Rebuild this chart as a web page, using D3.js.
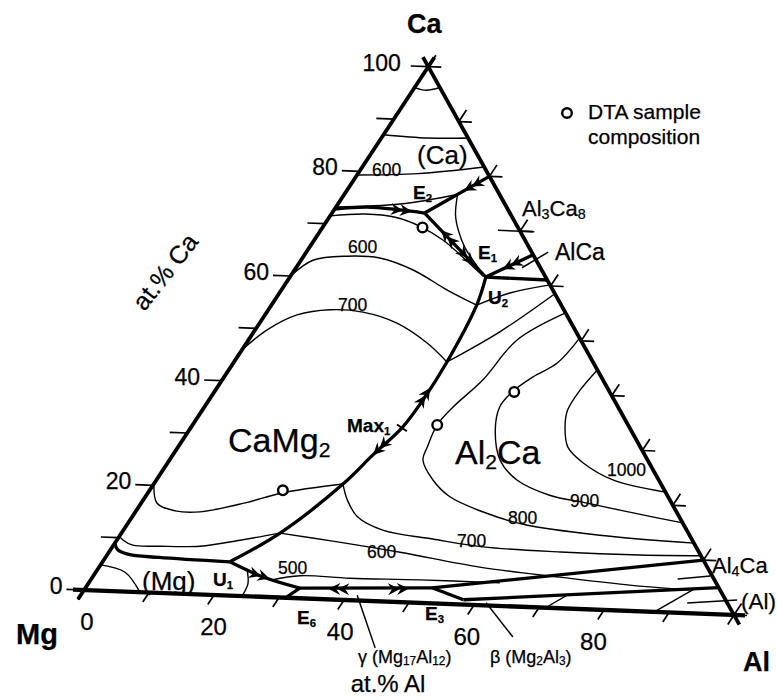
<!DOCTYPE html>
<html>
<head>
<meta charset="utf-8">
<script src="https://cdn.jsdelivr.net/npm/d3@7"></script>
<style>
  body { margin: 0; background: #fff; }
  svg { display: block; }
  text { font-family: "Liberation Sans", Arial, sans-serif; fill: #000; stroke: #000; stroke-width: 0.25px; }
</style>
</head>
<body>
<svg id="chart" width="777" height="700"></svg>
<script>
// compositions are [at.% Al, at.% Ca], Mg is the rest

const tickSteps = d3.range(0, 101, 10);
const caTickLabels = [0, 20, 40, 60, 80, 100];
const alTickLabels = [0, 20, 40, 60, 80];

// thick univariant lines
const valleyLines = [
  [[0, 72.8], [4.6, 73.4], [9.9, 73.1], [13.9, 72.7]],
  [[13.9, 72.7], [20, 80]],
  [[13.9, 72.7], [29.4, 61.2]],
  [[29.4, 61.2], [34.3, 65.7]],
  [[29.4, 61.2], [38.9, 61.1]],
  [[29.4, 61.2], [30.8, 55.9], [31.95, 45.1], [32.1, 37.8], [31.7, 32.5], [30.0, 27.2], [28.4, 21.6], [23.8, 12.0], [19.1, 6.3]],
  [[19.1, 6.3], [8, 6.6], [3, 7.0], [1, 7.8], [0, 9]],
  [[19.1, 6.3], [25.6, 3.7], [32.2, 1.9]],
  [[32.2, 1.9], [31, 0]],
  [[32.2, 1.9], [52, 2.9]],
  [[52, 2.9], [90, 10]],
  [[52, 2.9], [57.9, 0.9]],
  [[57.9, 0.9], [95, 5]]
];

// thin liquidus isotherms and other thin lines
const isoLines = [
  [[0, 96], [2, 95.6], [3.8, 96.2]],
  [[0, 87], [7, 86.7], [13, 87]],
  [[0, 79.3], [9, 80], [18.3, 81.7]],
  [[0, 73.2], [9.3, 74.2], [17, 76.4]],
  [[17, 76.4], [18.7, 72.6], [20.6, 69.8], [23.4, 66.5], [27.0, 63.2], [28.2, 62.1]],
  [[0, 71.5], [5.1, 72.1], [9.9, 71.7], [14.5, 70.2], [19.3, 67.8], [24.5, 64.4], [29, 61.3]],
  [[0, 60], [1.8, 63.1], [6.5, 64.1], [11.6, 64.0], [17.8, 62.0], [24.9, 58.5], [30.8, 55.9]],
  [[30.8, 55.9], [34.6, 58.4], [39.8, 60.2]],
  [[0, 45.9], [1.8, 49.8], [4.8, 52.8], [9.3, 54.0], [14.4, 53.8], [20.6, 52.0], [27.1, 48.5], [31.95, 45.1]],
  [[31.95, 45.1], [36.9, 51.1], [41.4, 58.6]],
  [[44.9, 55.1], [40.3, 49.7], [39.1, 42.0], [37.3, 36.7], [36.7, 33.3], [37.4, 29.1], [38.0, 26.7], [41.5, 23.0], [45.7, 20.0], [52.2, 17.4], [59.4, 15.4], [72.0, 13.9], [86.9, 13.1]],
  [[49.5, 50.5], [48.6, 45.7], [46.3, 42.9], [44.7, 40.0], [44.3, 37.1], [45.9, 32.8], [49.6, 27.2], [54.1, 23.6], [60.5, 21.0], [66.9, 19.8], [74.8, 18.3], [83.2, 16.8]],
  [[55.3, 44.7], [54.7, 40.8], [54.8, 37.0], [56.1, 33.8], [58.5, 30.1], [62.3, 27.3], [68.5, 24.3], [77.6, 22.4]],
  [[0, 20.3], [2.4, 16.7], [5.9, 15.4], [9.7, 15.4], [15.6, 17.4], [20.1, 19.5], [28.4, 21.6]],
  [[28.4, 21.6], [30.6, 18.7], [33.8, 15.6], [38.9, 13.3], [47.3, 12.0], [55.6, 10.9], [67.7, 10.5], [80.0, 10.5], [89.2, 10.8]],
  [[0, 10.3], [0.9, 9.6], [2.9, 8.7], [7.1, 8.7], [13.1, 9.0], [18.5, 10.4], [23.8, 12.0]],
  [[23.8, 12.0], [32.5, 10.9], [43.7, 9.3], [57.1, 7.1], [70.1, 5.8], [83.0, 4.7], [90.9, 4.4]],
  [[27.2, 3.2], [31.0, 4.2], [38.7, 4.1], [49.4, 4.3], [61.7, 4.3]],
  [[0, 4.8], [4.4, 3.6], [8.6, 0]],
  [[22.5, 4.9], [24.0, 2.3], [24.3, 0]],
  [[71.1, 0.1], [73.0, 2.5]],
  [[87.9, 0.2], [91.4, 4.5]]
];

// leader lines for phase labels and compound marks
const leaderLines = [
  [[41.5, 1.0], [49.4, -8.7]],
  [[61.6, 0.5], [69.0, -5.7]],
  [[26.6, 70], [32.2, 70]],
  [[33.9, 63.2], [36.3, 66.3]],
  [[88.0, 6.3], [92.6, 7.1]],
  [[91.8, 1.9], [99.0, 2.8]]
];

// crystallisation direction arrows: [position, towards]
const arrows = [
  [[10.7, 73.0], [13.9, 72.7]],
  [[18.2, 77.8], [13.9, 72.7]],
  [[19.3, 68.7], [13.9, 72.7]],
  [[25.1, 64.4], [29.4, 61.2]],
  [[31.8, 63.4], [29.4, 61.2]],
  [[32.0, 39.0], [31.95, 45.1]],
  [[30.3, 28.2], [28.4, 21.6]],
  [[25.5, 3.8], [32.2, 1.9]],
  [[37.6, 2.0], [32.2, 1.9]],
  [[47.6, 2.5], [52, 2.9]]
];

const maxPoint = [[31.7, 32.5], [31.95, 45.1]];

// DTA sample compositions
const dtaSamples = [[15, 70], [45, 40], [36.7, 33.3], [20, 20]];

// --- projection of the (slightly tilted) triangle -------------------------
const vMg = [84, 590], vAl = [734, 615], vCa = [428.3, 66.7];
const xFromAl = d3.scaleLinear().domain([0, 100]).range([0, vAl[0] - vMg[0]]);
const yFromAl = d3.scaleLinear().domain([0, 100]).range([0, vAl[1] - vMg[1]]);
const xFromCa = d3.scaleLinear().domain([0, 100]).range([0, vCa[0] - vMg[0]]);
const yFromCa = d3.scaleLinear().domain([0, 100]).range([0, vCa[1] - vMg[1]]);
const proj = d => [vMg[0] + xFromAl(d[0]) + xFromCa(d[1]), vMg[1] + yFromAl(d[0]) + yFromCa(d[1])];

const svg = d3.select('#chart');
const curved = d3.line().x(d => proj(d)[0]).y(d => proj(d)[1]).curve(d3.curveCatmullRom.alpha(0.5));
const straight = d3.line().x(d => proj(d)[0]).y(d => proj(d)[1]);

// isotherms
svg.append('g').selectAll('path').data(isoLines).enter().append('path')
  .attr('d', curved).attr('fill', 'none').attr('stroke', '#000').attr('stroke-width', 1.4);

svg.append('g').selectAll('path').data(leaderLines).enter().append('path')
  .attr('d', straight).attr('fill', 'none').attr('stroke', '#000').attr('stroke-width', 1.5);

// triangle with edges running a bit past the corners
const edges = [[[0, 0], [100, 0]], [[100, 0], [0, 100]], [[0, 100], [0, 0]]];
svg.append('g').selectAll('path').data(edges).enter().append('path')
  .attr('d', e => {
    const a = proj(e[0]), b = proj(e[1]);
    const L = Math.hypot(b[0] - a[0], b[1] - a[1]), ux = (b[0] - a[0]) / L, uy = (b[1] - a[1]) / L;
    return `M${a[0] - ux * 11},${a[1] - uy * 11}L${b[0] + ux * 11},${b[1] + uy * 11}`;
  })
  .attr('stroke', '#000').attr('stroke-width', (e, i) => i === 0 ? 4.4 : 3.8).attr('fill', 'none');

// ticks
const tickG = svg.append('g').attr('stroke', '#000').attr('stroke-width', 1.7);
tickSteps.forEach(t => {
  tickG.append('path').attr('d', straight([[0, t], [-2.7, t]]));           // Ca axis (left)
  tickG.append('path').attr('d', straight([[100 - t, t], [102 - t, t]]));  // right edge, flat stub
  tickG.append('path').attr('d', straight([[100 - t, t], [100 - t, t + 2.2]])); // right edge, slanted stub
  tickG.append('path').attr('d', straight([[t, 0], [t, -1.8]]));           // Al axis (bottom)
});

// univariant lines
svg.append('g').selectAll('path').data(valleyLines).enter().append('path')
  .attr('d', curved).attr('fill', 'none').attr('stroke', '#000').attr('stroke-width', 3.3)
  .attr('stroke-linejoin', 'round');

// double arrow heads
const arrowG = svg.append('g');
arrows.forEach(([p, q]) => {
  const a = proj(p), b = proj(q);
  const L = Math.hypot(b[0] - a[0], b[1] - a[1]), ux = (b[0] - a[0]) / L, uy = (b[1] - a[1]) / L;
  [7, -2].forEach(off => {
    const tip = [a[0] + ux * off, a[1] + uy * off];
    const back = [tip[0] - ux * 12, tip[1] - uy * 12];
    const notch = [tip[0] - ux * 8, tip[1] - uy * 8];
    arrowG.append('path')
      .attr('d', `M${tip}L${back[0] - uy * 6},${back[1] + ux * 6}L${notch}L${back[0] + uy * 6},${back[1] - ux * 6}Z`)
      .attr('fill', '#000');
  });
});

// Max1 mark
{
  const a = proj(maxPoint[0]), b = proj(maxPoint[1]);
  const L = Math.hypot(b[0] - a[0], b[1] - a[1]), ux = (b[0] - a[0]) / L, uy = (b[1] - a[1]) / L;
  svg.append('path').attr('d', `M${a[0] - uy * 6},${a[1] + ux * 6}L${a[0] + uy * 6},${a[1] - ux * 6}`)
    .attr('stroke', '#000').attr('stroke-width', 2);
}

// DTA samples
svg.append('g').selectAll('circle').data(dtaSamples).enter().append('circle')
  .attr('cx', d => proj(d)[0]).attr('cy', d => proj(d)[1]).attr('r', 4.8)
  .attr('fill', '#fff').attr('stroke', '#000').attr('stroke-width', 2.4);

// tick labels
svg.append('g').selectAll('text').data(caTickLabels).enter().append('text')
  .attr('x', d => proj([-2.7, d])[0] - (d === 100 ? 10 : 4)).attr('y', d => proj([0, d])[1] + 4)
  .attr('text-anchor', 'end').attr('font-size', 23).text(d => d);
svg.append('g').selectAll('text').data(alTickLabels).enter().append('text')
  .attr('x', d => proj([d, 0])[0] + 3 - d * 0.17).attr('y', d => proj([d, 0])[1] + 40)
  .attr('text-anchor', 'middle').attr('font-size', 24).text(d => d);

// text helper with subscripts: parts = [[text, isSub], ...]
function rich(x, y, parts, size, opts = {}) {
  const t = svg.append('text').attr('x', x).attr('y', y).attr('font-size', size);
  if (opts.bold) t.attr('font-weight', 'bold');
  if (opts.anchor) t.attr('text-anchor', opts.anchor);
  if (opts.rotate) t.attr('transform', `rotate(${opts.rotate},${x},${y})`);
  parts.forEach(([s, sub]) => {
    const sp = t.append('tspan').text(s);
    if (sub) sp.attr('font-size', size * (opts.subScale || 0.62)).attr('baseline-shift', '-' + (opts.subShift || 0.22) + 'em');
  });
  return t;
}

// corner labels
rich(407, 33, [['Ca']], 27, { bold: true });
rich(16, 644, [['Mg']], 29, { bold: true });
rich(743, 671, [['Al']], 27, { bold: true });

// axis titles
rich(172, 277, [['at.% Ca']], 25, { anchor: 'middle', rotate: -52 });
rich(388, 692, [['at.% Al']], 24, { anchor: 'middle' });

// phase fields
rich(228, 452, [['CaMg'], ['2', 1]], 34);
rich(455, 464, [['Al'], ['2', 1], ['Ca']], 34);
rich(417, 164, [['(Ca)']], 26);
rich(142, 590, [['(Mg)']], 26);

// invariant points
const inv = { bold: true, subScale: 0.6, subShift: 0.25 };
rich(413, 199, [['E'], ['2', 1]], 19, inv);
rich(478, 259, [['E'], ['1', 1]], 19, inv);
rich(488, 304, [['U'], ['2', 1]], 19, inv);
rich(213, 586, [['U'], ['1', 1]], 19, inv);
rich(297, 624, [['E'], ['6', 1]], 19, inv);
rich(425, 620, [['E'], ['3', 1]], 19, inv);
rich(347, 432, [['Max'], ['1', 1]], 19, inv);

// isotherm labels
const isoLab = [['600', 372, 176], ['600', 348, 253], ['700', 338, 311], ['500', 278, 574],
  ['600', 367, 558], ['700', 457, 547], ['800', 508, 524], ['900', 570, 507], ['1000', 607, 476]];
isoLab.forEach(([s, x, y]) => rich(x, y, [[s]], 17.5));

// compounds on the Al-Ca side and Mg-Al phases
const cmp = { subScale: 0.65 };
rich(522, 216, [['Al'], ['3', 1], ['Ca'], ['8', 1]], 22, cmp);
rich(555, 260, [['AlCa']], 23);
rich(712, 573, [['Al'], ['4', 1], ['Ca']], 22, cmp);
rich(741, 609, [['(Al)']], 22.5);
const ph = { subScale: 0.66, subShift: 0.2 };
rich(358, 663, [['γ'], [' (Mg'], ['17', 1], ['Al'], ['12', 1], [')']], 18, ph);
rich(490, 663, [['β'], [' (Mg'], ['2', 1], ['Al'], ['3', 1], [')']], 18, ph);

// legend
svg.append('circle').attr('cx', 567).attr('cy', 113).attr('r', 4.8)
  .attr('fill', '#fff').attr('stroke', '#000').attr('stroke-width', 2.4);
rich(588, 119, [['DTA sample']], 21);
rich(588, 144, [['composition']], 21);
</script>
</body>
</html>
